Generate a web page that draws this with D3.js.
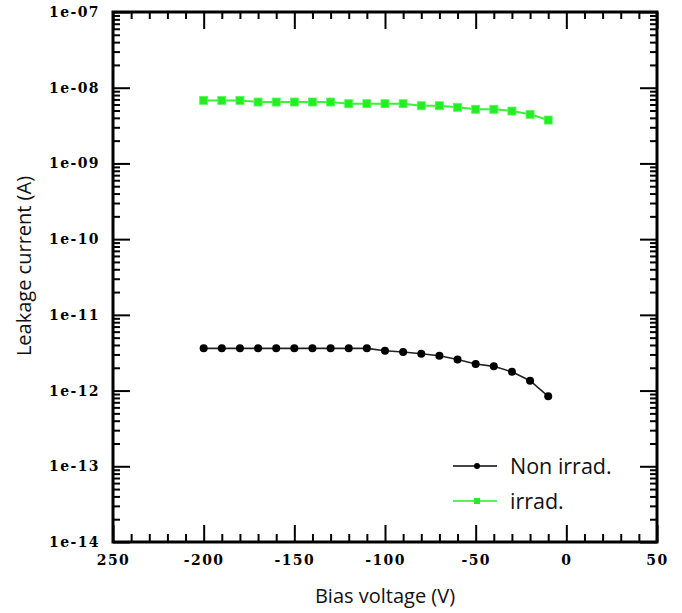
<!DOCTYPE html>
<html>
<head>
<meta charset="utf-8">
<script src="https://cdn.jsdelivr.net/npm/d3@7"></script>
<style>
  html, body { margin: 0; padding: 0; background: #fff; }
  svg { display: block; }
  .tick-label { font-family: "DejaVu Serif", serif; font-weight: bold; font-size: 14px; letter-spacing: 1.4px; fill: #000; }
  .title { font-family: "Open Sans", sans-serif; font-size: 20px; fill: #111; }
  .legend-text { font-family: "Open Sans", sans-serif; font-size: 21.5px; fill: #111; }
</style>
</head>
<body>
<svg id="chart" width="682" height="613"></svg>
<script>
// Bias voltage steps (V)
const voltage = [-200, -190, -180, -170, -160, -150, -140, -130, -120, -110,
                 -100, -90, -80, -70, -60, -50, -40, -30, -20, -10];
// Leakage current (A), non-irradiated sensor
const nonIrrad = [3.61e-12, 3.61e-12, 3.61e-12, 3.61e-12, 3.61e-12, 3.61e-12, 3.61e-12, 3.61e-12, 3.61e-12, 3.61e-12,
                  3.36e-12, 3.23e-12, 3.06e-12, 2.88e-12, 2.58e-12, 2.24e-12, 2.09e-12, 1.77e-12, 1.35e-12, 8.4e-13];
// Leakage current (A), irradiated sensor
const irrad = [6.8e-9, 6.8e-9, 6.8e-9, 6.47e-9, 6.47e-9, 6.47e-9, 6.47e-9, 6.47e-9, 6.15e-9, 6.15e-9,
               6.15e-9, 6.15e-9, 5.78e-9, 5.78e-9, 5.51e-9, 5.19e-9, 5.19e-9, 4.92e-9, 4.45e-9, 3.74e-9];

const seriesNames = ["Non irrad.", "irrad."];
const xTickValues = [-250, -200, -150, -100, -50, 0, 50];
const xTickLabels = ["250", "-200", "-150", "-100", "-50", "0", "50"];
const yTickValues = [1e-7, 1e-8, 1e-9, 1e-10, 1e-11, 1e-12, 1e-13, 1e-14];
const yTickLabels = ["1e-07", "1e-08", "1e-09", "1e-10", "1e-11", "1e-12", "1e-13", "1e-14"];
const xTitle = "Bias voltage (V)";
const yTitle = "Leakage current (A)";

const svg = d3.select("#chart");
const plotLeft = 113, plotRight = 657, plotTop = 12, plotBottom = 542;

const x = d3.scaleLinear().domain([-250, 50]).range([plotLeft, plotRight]);
const y = d3.scaleLog().domain([1e-14, 1e-7]).range([plotBottom, plotTop]);

// minor tick positions
const xMinor = d3.range(-240, 50, 10).filter(v => v % 50 !== 0);
const yMinor = [];
for (let d = -14; d < -7; d++) for (let k = 2; k <= 9; k++) yMinor.push(k * Math.pow(10, d));

const majorLen = 17, minorLen = 7;

function styleAxis(g) {
  g.select(".domain").remove();
  g.selectAll(".tick line").attr("stroke", "#000").attr("stroke-width", 2);
}

// bottom axis (labelled)
svg.append("g").attr("transform", `translate(0,${plotBottom})`)
  .call(d3.axisBottom(x).tickValues(xTickValues).tickSizeInner(-majorLen).tickSizeOuter(0).tickPadding(13)
    .tickFormat((d, i) => xTickLabels[i]))
  .call(styleAxis)
  .call(g => g.selectAll("text").attr("class", "tick-label").attr("font-family", null).attr("font-size", null));
svg.append("g").attr("transform", `translate(0,${plotBottom})`)
  .call(d3.axisBottom(x).tickValues(xMinor).tickSizeInner(-minorLen - 1).tickSizeOuter(0).tickFormat(""))
  .call(styleAxis);

// top axis
svg.append("g").attr("transform", `translate(0,${plotTop})`)
  .call(d3.axisTop(x).tickValues(xTickValues).tickSizeInner(-majorLen).tickSizeOuter(0).tickFormat(""))
  .call(styleAxis);
svg.append("g").attr("transform", `translate(0,${plotTop})`)
  .call(d3.axisTop(x).tickValues(xMinor).tickSizeInner(-minorLen).tickSizeOuter(0).tickFormat(""))
  .call(styleAxis);

// left axis (labelled)
svg.append("g").attr("transform", `translate(${plotLeft},0)`)
  .call(d3.axisLeft(y).tickValues(yTickValues).tickSizeInner(-majorLen).tickSizeOuter(0).tickPadding(13)
    .tickFormat((d, i) => yTickLabels[i]))
  .call(styleAxis)
  .call(g => g.selectAll("text").attr("class", "tick-label").attr("font-family", null).attr("font-size", null));
svg.append("g").attr("transform", `translate(${plotLeft},0)`)
  .call(d3.axisLeft(y).tickValues(yMinor).tickSizeInner(-minorLen).tickSizeOuter(0).tickFormat(""))
  .call(styleAxis);

// right axis
svg.append("g").attr("transform", `translate(${plotRight},0)`)
  .call(d3.axisRight(y).tickValues(yTickValues).tickSizeInner(-majorLen).tickSizeOuter(0).tickFormat(""))
  .call(styleAxis);
svg.append("g").attr("transform", `translate(${plotRight},0)`)
  .call(d3.axisRight(y).tickValues(yMinor).tickSizeInner(-minorLen).tickSizeOuter(0).tickFormat(""))
  .call(styleAxis);

// frame
svg.append("rect")
  .attr("x", plotLeft).attr("y", plotTop)
  .attr("width", plotRight - plotLeft).attr("height", plotBottom - plotTop)
  .attr("fill", "none").attr("stroke", "#000").attr("stroke-width", 3);

// series
const line = d3.line().x(d => x(d[0])).y(d => y(d[1]));

const irradPts = voltage.map((v, i) => [v, irrad[i]]);
const nonPts = voltage.map((v, i) => [v, nonIrrad[i]]);

svg.append("path").datum(irradPts).attr("d", line)
  .attr("fill", "none").attr("stroke", "#3cf03c").attr("stroke-width", 2);
svg.append("g").selectAll("rect").data(irradPts).join("rect")
  .attr("x", d => x(d[0]) - 4).attr("y", d => y(d[1]) - 4)
  .attr("width", 8).attr("height", 8)
  .attr("fill", "#22ee22").attr("stroke", "#5cf55c").attr("stroke-width", 0.8);

svg.append("path").datum(nonPts).attr("d", line)
  .attr("fill", "none").attr("stroke", "#222").attr("stroke-width", 1.6);
svg.append("g").selectAll("circle").data(nonPts).join("circle")
  .attr("cx", d => x(d[0])).attr("cy", d => y(d[1])).attr("r", 4)
  .attr("fill", "#000");

// legend
const legend = svg.append("g");
const legendRows = [
  { name: seriesNames[0], y: 466, color: "#444", marker: "circle" },
  { name: seriesNames[1], y: 501, color: "#55f555", marker: "square" }
];
legendRows.forEach(r => {
  legend.append("line").attr("x1", 453).attr("x2", 497).attr("y1", r.y).attr("y2", r.y)
    .attr("stroke", r.color).attr("stroke-width", 2);
  if (r.marker === "circle") {
    legend.append("circle").attr("cx", 477).attr("cy", r.y).attr("r", 3).attr("fill", "#000");
  } else {
    legend.append("rect").attr("x", 474).attr("y", r.y - 3).attr("width", 6).attr("height", 6).attr("fill", "#22ee22");
  }
  legend.append("text").attr("class", "legend-text")
    .attr("x", 510).attr("y", r.y).attr("dy", "0.35em").text(r.name);
});

// axis titles
svg.append("text").attr("class", "title")
  .attr("x", (plotLeft + plotRight) / 2).attr("y", 603).attr("text-anchor", "middle").text(xTitle);
svg.append("text").attr("class", "title")
  .attr("transform", `translate(31,266) rotate(-90)`).attr("text-anchor", "middle").text(yTitle);
</script>
</body>
</html>
